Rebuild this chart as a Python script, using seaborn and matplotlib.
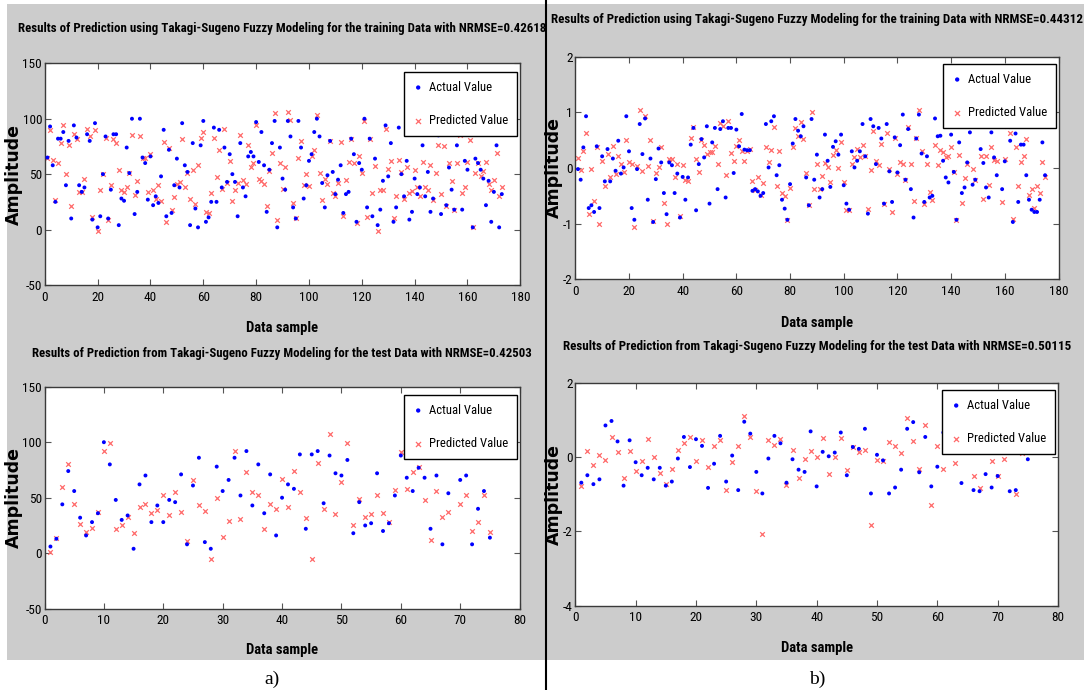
import numpy as np
import pandas as pd
import matplotlib
matplotlib.use("Agg")
import matplotlib.pyplot as plt
from matplotlib import font_manager as fm
from matplotlib.patches import Rectangle
from matplotlib.lines import Line2D
import seaborn as sns

# ---------------- data ----------------
titles = [
    "Results of Prediction using Takagi-Sugeno Fuzzy Modeling for the training Data with NRMSE=0.42618",
    "Results of Prediction using Takagi-Sugeno Fuzzy Modeling for the training Data with NRMSE=0.44312",
    "Results of Prediction from Takagi-Sugeno Fuzzy Modeling for the test Data with NRMSE=0.42503",
    "Results of Prediction from Takagi-Sugeno Fuzzy Modeling for the test Data with NRMSE=0.50115",
]
series_labels = ["Actual Value", "Predicted Value"]
x_label = "Data sample"
y_label = "Amplitude"
panel_tags = ["a)", "b)"]

train_a_actual = [
    65, 93, 58, 25, 82, 82, 88, 40, 80, 10,
    94, 83, 40, 34, 38, 86, 80, 9, 96, 2,
    12, 50, 84, 10, 36, 86, 86, 4, 28, 26,
    74, 51, 100, 14, 34, 100, 65, 60, 27, 66,
    22, 30, 24, 48, 90, 12, 72, 15, 40, 64,
    38, 96, 58, 52, 4, 78, 19, 2, 76, 98,
    7, 11, 25, 92, 25, 90, 38, 74, 43, 68,
    50, 43, 12, 78, 38, 30, 66, 70, 66, 97,
    61, 88, 58, 16, 54, 78, 98, 2, 74, 46,
    36, 98, 84, 20, 10, 98, 74, 28, 40, 62,
    68, 88, 100, 84, 42, 20, 49, 80, 52, 32,
    45, 58, 15, 32, 34, 82, 68, 7, 60, 54,
    100, 20, 82, 12, 64, 4, 18, 44, 94, 48,
    78, 7, 20, 92, 50, 30, 62, 9, 16, 46,
    32, 38, 76, 30, 52, 16, 28, 100, 85, 14,
    88, 22, 56, 36, 18, 76, 90, 18, 62, 54,
    95, 2, 64, 60, 54, 46, 22, 44, 7, 34,
    76, 2, 32,
]
train_a_pred = [
    65, 90, 63, 27, 60, 78, 94, 50, 76, 21,
    86, 82, 34, 34, 46, 91, 84, 11, 90, -1,
    36, 50, 83, 9, 40, 82, 78, 54, 36, 34,
    38, 51, 85, 31, 44, 84, 65, 65, 34, 68,
    36, 28, 40, 26, 79, 7, 74, 18, 29, 41,
    43, 82, 38, 51, 28, 54, 23, 58, 83, 88,
    16, 15, 33, 83, 47, 72, 37, 91, 42, 62,
    26, 36, 42, 85, 45, 41, 76, 56, 60, 94,
    46, 44, 41, 21, 53, 69, 105, 9, 60, 37,
    56, 106, 99, 24, 10, 65, 80, 40, 50, 39,
    66, 72, 103, 51, 27, 46, 41, 80, 33, 30,
    42, 79, 12, 45, 61, 82, 60, 6, 66, 51,
    98, 11, 82, 33, 57, -1, 36, 36, 91, 55,
    62, 10, 30, 63, 52, 28, 56, 33, 35, 54,
    38, 30, 61, 38, 36, 58, 27, 51, 76, 32,
    75, 21, 60, 44, 18, 60, 85, 33, 38, 61,
    81, 2, 51, 60, 48, 53, 61, 41, 36, 45,
    69, 30, 38,
]
train_b_actual = [
    -0.02, -0.21, 0.37, 0.93, -0.72, -0.67, -0.79, 0.39, -0.72, 0.21,
    -0.24, 0.34, -0.24, 0.17, -0.05, 0.49, -0.10, 0.01, 0.93, 0.30,
    -0.72, -0.93, -0.02, 0.79, 0.25, 0.89, -0.57, 0.17, -0.97, -0.20,
    0.35, 0.10, -0.45, -0.83, 0.10, 0.05, -0.45, -0.10, -0.89, -0.16,
    -0.57, -0.17, 0.42, 0.72, -0.76, 0.07, 0.52, 0.19, 0.75, -0.64,
    0.46, 0.72, -0.38, 0.70, 0.84, -0.53, 0.72, 0.72, -0.09, 0.69,
    0.39, 0.97, 0.33, 0.32, 0.32, -0.41, -0.38, -0.42, -0.50, -0.45,
    0.79, 0.01, 0.84, 0.93, -0.13, 0.05, -0.57, -0.73, -0.93, -0.29,
    0.44, 0.88, 0.67, 0.57, 0.75, -0.17, -0.67, 0.88, -0.21, 0.24,
    -0.53, -0.38, 0.60, 0.13, -0.34, 0.38, 0.48, 0.24, 0.60, -0.31,
    -0.64, -0.75, 0.30, 0.01, 0.13, 0.30, 0.79, 0.21, -0.82, 0.88,
    0.75, 0.07, 0.72, 0.53, -0.64, 0.79, -0.06, -0.61, 0.55, -0.08,
    0.41, 0.96, -0.21, 0.70, -0.38, -0.89, 0.53, 0.96, 0.26, -0.61,
    0.21, -0.53, -0.50, 0.89, 0.57, 0.58, 0.13, -0.17, -0.26, 0.60,
    -0.07, -0.93, 0.46, -0.45, -0.35, 0.10, 0.64, -0.30, -0.21, 0.90,
    0.34, 0.09, -0.35, -0.53, 0.64, 0.19, -0.13, 0.95, -0.38, 0.12,
    0.85, 0.49, -0.97, 0.62, -0.61, 0.42, 0.42, -0.13, -0.57, -0.75,
    -0.79, -0.79, -0.57, 0.46, -0.13,
]
train_b_pred = [
    0.18, -0.04, 0.31, 0.63, -0.82, -0.02, -0.59, 0.37, -1.00, 0.13,
    -0.33, 0.26, -0.17, 0.39, -0.11, 0.21, 0.07, -0.08, 0.50, 0.11,
    0.08, -1.06, 0.04, 1.04, -0.06, 0.94, 0.03, 0.50, -0.96, -0.09,
    0.01, 0.38, -0.63, -1.01, 0.17, 0.17, -0.16, 0.07, -0.87, 0.06,
    -0.21, -0.23, 0.54, 0.73, 0.16, -0.08, 0.51, 0.42, 0.25, 0.28,
    0.28, 0.39, 0.07, 0.81, 0.76, -0.12, 0.85, 0.27, 0.13, 0.39,
    0.50, 0.30, 0.13, 0.30, 0.34, -0.24, -0.39, -0.16, -0.48, -0.27,
    0.37, 0.10, 0.33, 0.73, -0.33, 0.30, -0.45, -0.50, -0.93, -0.36,
    0.37, 0.71, 0.57, 0.83, 0.53, -0.09, -0.67, 1.01, -0.38, 0.07,
    -0.38, -0.15, 0.09, 0.01, -0.26, 0.24, 0.33, 0.00, 0.46, -0.26,
    -0.75, -0.76, 0.07, 0.19, 0.34, 0.19, 0.41, 0.21, -0.73, -0.04,
    0.67, 0.13, 0.05, 0.43, -0.64, 0.62, -0.02, -0.79, 0.54, -0.10,
    0.11, 0.08, -0.21, 0.73, 0.07, -0.59, 0.54, 1.05, 0.30, -0.64,
    0.07, -0.44, -0.57, 0.42, 0.05, 0.32, 0.29, 0.19, 0.21, 0.38,
    -0.08, -0.93, 0.24, -0.63, -0.18, 0.07, 0.80, -0.02, -0.21, 0.85,
    0.22, -0.56, 0.22, -0.30, 0.38, 0.15, 0.13, 0.90, -0.61, 0.17,
    0.75, 0.62, -0.91, 0.37, -0.32, 0.10, 0.22, 0.53, -0.48, -0.38,
    -0.72, -0.32, -0.45, 0.10, -0.17,
]
test_a_actual = [
    6, 13, 44, 74, 56, 32, 16, 28, 36, 100,
    80, 48, 30, 34, 4, 62, 70, 28, 43, 28,
    48, 46, 71, 8, 61, 86, 10, 4, 78, 56,
    66, 86, 52, 92, 43, 80, 36, 71, 16, 50,
    62, 58, 89, 22, 89, 92, 45, 88, 72, 70,
    84, 18, 46, 25, 27, 72, 20, 27, 52, 88,
    68, 56, 77, 68, 22, 70, 8, 54, 95, 66,
    70, 8, 40, 56, 14,
]
test_a_pred = [
    1, 14, 60, 80, 44, 26, 19, 23, 37, 92,
    99, 22, 25, 33, 18, 42, 44, 36, 39, 52,
    34, 55, 37, 11, 66, 43, 38, -5, 50, 15,
    29, 92, 31, 73, 55, 52, 22, 44, 40, 67,
    42, 74, 55, 32, -5, 81, 40, 107, 35, 64,
    99, 25, 49, 33, 35, 52, 36, 28, 57, 91,
    58, 73, 78, 48, 12, 56, 33, 37, 88, 44,
    52, 20, 28, 52, 19,
]
test_b_actual = [
    -0.69, -0.49, -0.73, -0.60, 0.85, 0.97, 0.42, -0.77, 0.45, -0.14,
    -0.49, -0.29, -0.60, -0.29, -0.77, -0.66, -0.04, 0.54, -0.27, 0.48,
    0.30, -0.83, -0.18, 0.57, -0.66, 0.04, -0.89, 0.95, 0.63, -0.40,
    -0.98, -0.04, 0.57, 0.37, -0.69, -0.06, -0.34, -0.40, 0.69, -0.79,
    0.14, 0.02, 0.12, 0.66, -0.49, 0.27, 0.22, 0.76, -0.98, 0.06,
    -0.09, -0.98, -0.82, -0.34, 0.76, 0.94, -0.41, 0.54, -0.79, -0.26,
    0.66, 0.34, 0.45, -0.70, 0.25, -0.89, -0.92, -0.46, -0.82, -0.51,
    0.50, -0.92, -0.89, 0.30, -0.06,
]
test_b_pred = [
    -0.79, 0.16, -0.22, 0.05, -0.09, 0.54, 0.13, -0.57, 0.17, -0.38,
    -0.11, 0.48, 0.00, -0.43, -0.73, -0.31, 0.18, 0.39, 0.54, -0.11,
    0.45, -0.27, 0.30, 0.47, -0.88, -0.14, 0.30, 1.11, 0.54, -0.91,
    -2.08, 0.45, 0.33, 0.48, -0.74, 0.18, -0.57, -0.04, 0.15, 0.01,
    0.50, -0.45, -0.01, 0.50, -0.34, 0.27, 0.13, 0.19, -1.83, -0.09,
    -0.12, 0.40, 0.29, 0.11, 1.05, 0.42, -0.32, 0.85, -1.28, 0.29,
    -0.31, 0.18, -0.15, 0.30, 0.50, -0.52, -0.84, 0.20, -0.11, -0.51,
    -0.05, 0.40, -1.00, 0.10, 0.30,
]

train_xticks = [0, 20, 40, 60, 80, 100, 120, 140, 160, 180]
test_xticks = [0, 10, 20, 30, 40, 50, 60, 70, 80]
yticks_a = [-50, 0, 50, 100, 150]
yticks_b_train = [-2, -1, 0, 1, 2]
yticks_b_test = [-4, -2, 0, 2]

# ---------------- style ----------------
sns.set_theme(style="white")


def has_font(name):
    try:
        fm.findfont(fm.FontProperties(family=name), fallback_to_default=False)
        return True
    except Exception:
        return False


def pick(cands):
    for c in cands:
        if has_font(c):
            return c
    return "DejaVu Sans"


NARROW = pick(["Liberation Sans Narrow", "Roboto Condensed", "Arial Narrow",
               "Liberation Sans", "Arial", "DejaVu Sans"])
SERIF = pick(["Liberation Serif", "DejaVu Serif"])
FAM = [NARROW, "DejaVu Sans"]
plt.rcParams["font.family"] = FAM

W, H = 1084, 690
fig = plt.figure(figsize=(W / 100, H / 100), dpi=100)
fig.patch.set_facecolor("white")
renderer = fig.canvas.get_renderer()

GRAY = "#cccccc"
BLUE = "#0000ff"
RED = "#ff6a6a"


def size_for(text, target_px, **kw):
    t = fig.text(0, 0, text, fontsize=10, **kw)
    w = t.get_window_extent(renderer).width
    t.remove()
    return 10.0 * target_px / w


# grey figure backgrounds and separator
fig.add_artist(Rectangle((7 / W, 1 - 660 / H), (545 - 7) / W, (660 - 4) / H,
                         transform=fig.transFigure, facecolor=GRAY,
                         edgecolor="none", zorder=-10))
fig.add_artist(Rectangle((547 / W, 1 - 660 / H), (W - 547) / W, (660 - 4) / H,
                         transform=fig.transFigure, facecolor=GRAY,
                         edgecolor="none", zorder=-10))
fig.add_artist(Line2D([546 / W, 546 / W], [0, 1], transform=fig.transFigure,
                      color="black", lw=1.5, zorder=-5))

tick_fs = size_for("150", 19.5, family=FAM)
xl_fs = size_for(x_label, 72, family=FAM, fontweight="bold")
yl_fs = size_for(y_label, 100, family="DejaVu Sans", fontweight="bold")
leg_fs = size_for(series_labels[1], 78, family=FAM)

panels = [
    dict(box=(44.8, 63.3, 520.3, 285.0), act=train_a_actual, pred=train_a_pred,
         xticks=train_xticks, yticks=yticks_a, title=titles[0], title_w=525,
         title_cy=37, xl_cy=328, yl_cx=14, leg=(517, 72)),
    dict(box=(575.3, 56.7, 1058.5, 279.3), act=train_b_actual, pred=train_b_pred,
         xticks=train_xticks, yticks=yticks_b_train, title=titles[1], title_w=532,
         title_cy=28, xl_cy=323, yl_cx=554, leg=(1056, 64)),
    dict(box=(44.5, 386.7, 519.6, 608.7), act=test_a_actual, pred=test_a_pred,
         xticks=test_xticks, yticks=yticks_a, title=titles[2], title_w=497,
         title_cy=362, xl_cy=650, yl_cx=14, leg=(517, 395)),
    dict(box=(575.3, 382.7, 1058.0, 605.7), act=test_b_actual, pred=test_b_pred,
         xticks=test_xticks, yticks=yticks_b_test, title=titles[3], title_w=507,
         title_cy=355, xl_cy=648, yl_cx=554, leg=(1055, 390)),
]

for p in panels:
    x0, y0, x1, y1 = p["box"]
    pw, ph = x1 - x0, y1 - y0
    ax = fig.add_axes([x0 / W, 1 - y1 / H, pw / W, ph / H])
    ax.set_facecolor("white")
    df_a = pd.DataFrame({"sample": np.arange(1, len(p["act"]) + 1), "amp": p["act"]})
    df_p = pd.DataFrame({"sample": np.arange(1, len(p["pred"]) + 1), "amp": p["pred"]})
    sns.scatterplot(data=df_a, x="sample", y="amp", ax=ax, marker="o", s=8,
                    color=BLUE, edgecolor="none", linewidth=0,
                    label=series_labels[0], zorder=3)
    sns.scatterplot(data=df_p, x="sample", y="amp", ax=ax, marker="x", s=11,
                    color=RED, linewidth=0.9, label=series_labels[1], zorder=2)

    ax.set_xlim(p["xticks"][0], p["xticks"][-1])
    ax.set_ylim(p["yticks"][0], p["yticks"][-1])
    ax.set_xticks(p["xticks"])
    ax.set_yticks(p["yticks"])
    ax.set_xticklabels([str(v) for v in p["xticks"]])
    ax.set_yticklabels([str(v) for v in p["yticks"]])
    ax.grid(False)
    for sp in ax.spines.values():
        sp.set_visible(True)
        sp.set_color("#3a3a3a")
        sp.set_linewidth(1.0)
    ax.tick_params(axis="both", which="both", direction="in", length=4.5,
                   width=0.8, color="#555555", bottom=True, left=True,
                   top=True, right=True, labelsize=tick_fs, labelcolor="black")
    ax.tick_params(axis="x", pad=4)
    ax.tick_params(axis="y", pad=2)

    tfs = size_for(p["title"], p["title_w"], family=FAM, fontweight="bold")
    ax.set_title(p["title"], fontsize=tfs, fontweight="bold", color="black",
                 y=(y1 - p["title_cy"]) / ph, va="center")

    ax.set_xlabel(x_label, fontsize=xl_fs, fontweight="bold", color="black")
    ax.xaxis.label.set_va("center")
    ax.xaxis.set_label_coords(0.5, -(p["xl_cy"] - y1) / ph)
    ax.set_ylabel(y_label, fontsize=yl_fs, fontweight="bold", color="black",
                  family="DejaVu Sans")
    ax.yaxis.label.set_va("center")
    ax.yaxis.set_label_coords(-(x0 - p["yl_cx"]) / pw, 0.5)

    lx, ly = p["leg"]
    leg = ax.legend(loc="upper right",
                    bbox_to_anchor=((lx - x0) / pw, (y1 - ly) / ph),
                    borderaxespad=0, frameon=True, fancybox=False,
                    framealpha=1, edgecolor="black", facecolor="white",
                    prop={"family": FAM, "size": leg_fs},
                    handlelength=0.9, handletextpad=0.4, labelspacing=1.6,
                    borderpad=0.7, markerscale=1.1)
    leg.get_frame().set_linewidth(1.0)
    leg.set_zorder(10)
    for t in leg.get_texts():
        t.set_color("black")

fig.text(272 / W, 1 - 679 / H, panel_tags[0], family=SERIF, fontsize=14,
         ha="center", va="center", color="black")
fig.text(817 / W, 1 - 679 / H, panel_tags[1], family=SERIF, fontsize=14,
         ha="center", va="center", color="black")

fig.savefig("out.png", dpi=100, facecolor="white")
